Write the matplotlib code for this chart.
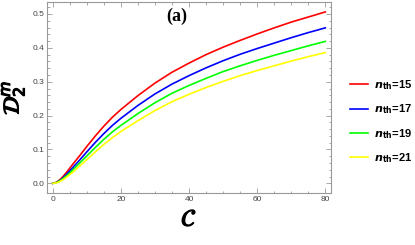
import numpy as np
import matplotlib.pyplot as plt
import matplotlib.patheffects as pe

# values
C = [0, 1, 2, 3, 4, 5, 6, 8, 10, 12.5, 15, 17.5, 20, 25, 30, 35, 40, 45, 50, 55, 60, 65, 70, 75, 80]
d_15 = [0, 0.003, 0.010, 0.020, 0.032, 0.045, 0.058, 0.083, 0.109, 0.140, 0.169, 0.195, 0.218,
        0.259, 0.296, 0.328, 0.355, 0.380, 0.402, 0.422, 0.441, 0.459, 0.476, 0.491, 0.506]
d_17 = [0, 0.002, 0.008, 0.016, 0.026, 0.037, 0.048, 0.070, 0.093, 0.121, 0.147, 0.171, 0.192,
        0.230, 0.264, 0.293, 0.318, 0.341, 0.362, 0.381, 0.398, 0.414, 0.430, 0.445, 0.459]
d_19 = [0, 0.002, 0.007, 0.014, 0.022, 0.031, 0.041, 0.061, 0.081, 0.106, 0.130, 0.152, 0.171,
        0.206, 0.238, 0.266, 0.289, 0.310, 0.330, 0.347, 0.363, 0.378, 0.392, 0.406, 0.419]
d_21 = [0, 0.001, 0.005, 0.011, 0.018, 0.026, 0.034, 0.052, 0.070, 0.093, 0.115, 0.135, 0.153,
        0.185, 0.215, 0.241, 0.263, 0.283, 0.301, 0.318, 0.333, 0.347, 0.361, 0.374, 0.386]
n_th = [15, 17, 19, 21]
colors = ['#ff0000', '#0000ff', '#00ff00', '#ffff00']

fig = plt.figure(figsize=(4.15, 2.45), dpi=100)
ax = fig.add_axes([0.114, 0.212, 0.683, 0.778])

for d, n, c in zip([d_15, d_17, d_19, d_21], n_th, colors):
    ax.plot(C, d, color=c, lw=1.2, solid_joinstyle='round',
            label=r'$\mathbfit{n}_{\mathbf{th}}$' + '={}'.format(n))

ax.set_xlim(-1.6, 81.6)
ax.set_ylim(-0.0286, 0.534)
ax.set_xticks([0, 20, 40, 60, 80])
ax.set_yticks([0.0, 0.1, 0.2, 0.3, 0.4, 0.5])
ax.set_yticklabels(['0.0', '0.1', '0.2', '0.3', '0.4', '0.5'])
ax.set_xticks(np.arange(0, 81, 5), minor=True)
ax.set_yticks(np.arange(0, 0.53, 0.02), minor=True)

for s in ax.spines.values():
    s.set_color('#999999')
    s.set_linewidth(0.8)
ax.tick_params(which='both', direction='in', top=True, right=True,
               color='#999999', width=0.6, labelsize=6, labelcolor='#444444',
               labelfontfamily='Liberation Sans', pad=2)
ax.tick_params(which='major', length=3.5)
ax.tick_params(which='minor', length=1.8)

ax.text(0.455, 0.975, '(a)', transform=ax.transAxes, ha='center', va='top',
        fontsize=13, fontweight='bold', family='Liberation Serif')
thick = [pe.withStroke(linewidth=0.9, foreground='black')]
ax.set_xlabel(r'$\mathcal{C}$', fontsize=17, labelpad=3, path_effects=thick)
ax.set_ylabel(r'$\mathcal{D}_2^m$', fontsize=16, labelpad=4, path_effects=thick)

leg = fig.legend(loc='center left', bbox_to_anchor=(0.82, 0.504), frameon=False,
                 prop={'family': 'Liberation Sans', 'weight': 'bold', 'size': 8},
                 handlelength=1.6, handletextpad=0.5, labelspacing=0.95)

fig.savefig('out.png', dpi=100)
